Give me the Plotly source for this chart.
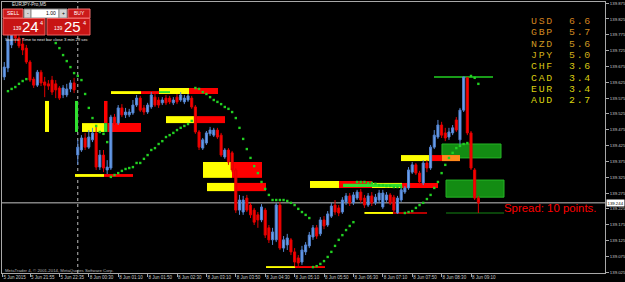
import plotly.graph_objects as go

# ---------------- data ----------------
bar_idx = list(range(-7, 123))
opens = [139.642,139.670,139.743,139.806,139.765,139.746,139.733,139.689,139.635,139.616,
         139.657,139.626,139.620,139.632,139.620,139.607,139.585,139.585,139.604,139.623,
         139.395,139.411,139.449,139.420,139.443,139.465,139.357,139.395,139.348,139.354,
         139.515,139.496,139.544,139.522,139.522,139.528,139.553,139.575,139.544,139.531,
         139.547,139.578,139.569,139.560,139.575,139.575,139.560,139.578,139.569,139.563,
         139.569,139.575,139.547,139.468,139.417,139.433,139.462,139.458,139.474,139.458,
         139.389,139.411,139.402,139.348,139.221,139.215,139.259,139.237,139.221,139.206,
         139.190,139.221,139.165,139.127,139.127,139.237,139.101,139.111,139.127,139.089,
         139.070,139.057,139.089,139.108,139.136,139.165,139.146,139.190,139.174,139.202,
         139.237,139.228,139.215,139.247,139.266,139.244,139.259,139.278,139.259,139.237,
         139.266,139.244,139.253,139.231,139.253,139.269,139.262,139.212,139.253,139.278,
         139.291,139.341,139.364,139.338,139.307,139.370,139.354,139.420,139.452,139.490,
         139.465,139.452,139.465,139.506,139.443,139.537,139.639,139.465,139.348,139.259]
highs = [139.689,139.774,139.828,139.838,139.784,139.765,139.743,139.695,139.642,139.664,
         139.664,139.642,139.632,139.645,139.632,139.613,139.616,139.620,139.632,139.639,
         139.443,139.458,139.465,139.474,139.481,139.487,139.411,139.411,139.379,139.522,
         139.525,139.553,139.556,139.544,139.541,139.569,139.585,139.582,139.553,139.560,
         139.594,139.591,139.578,139.578,139.585,139.582,139.578,139.588,139.594,139.585,
         139.588,139.582,139.553,139.474,139.449,139.471,139.484,139.481,139.481,139.465,
         139.417,139.417,139.408,139.354,139.269,139.266,139.269,139.244,139.228,139.215,
         139.240,139.228,139.174,139.165,139.244,139.247,139.139,139.146,139.133,139.101,
         139.079,139.108,139.120,139.152,139.174,139.174,139.199,139.202,139.218,139.244,
         139.253,139.237,139.262,139.275,139.275,139.278,139.285,139.288,139.269,139.275,
         139.278,139.272,139.285,139.285,139.278,139.275,139.269,139.266,139.291,139.297,
         139.357,139.373,139.370,139.345,139.379,139.379,139.427,139.474,139.506,139.500,
         139.481,139.481,139.490,139.515,139.544,139.642,139.642,139.471,139.354,139.266]
lows = [139.632,139.657,139.733,139.749,139.733,139.711,139.683,139.626,139.607,139.610,
        139.613,139.578,139.601,139.585,139.575,139.569,139.575,139.578,139.594,139.591,
        139.364,139.405,139.411,139.414,139.436,139.348,139.348,139.341,139.335,139.348,
        139.490,139.490,139.515,139.512,139.515,139.522,139.547,139.531,139.522,139.525,
        139.541,139.547,139.544,139.553,139.553,139.556,139.553,139.556,139.563,139.556,
        139.563,139.541,139.462,139.411,139.411,139.427,139.455,139.452,139.446,139.389,
        139.383,139.364,139.341,139.212,139.206,139.206,139.215,139.196,139.174,139.165,
        139.183,139.133,139.117,139.111,139.120,139.095,139.089,139.095,139.079,139.044,
        139.038,139.048,139.079,139.101,139.127,139.130,139.139,139.161,139.168,139.196,
        139.206,139.202,139.209,139.237,139.234,139.237,139.253,139.244,139.228,139.231,
        139.234,139.237,139.244,139.225,139.247,139.237,139.212,139.209,139.247,139.272,
        139.285,139.335,139.332,139.304,139.300,139.341,139.348,139.414,139.446,139.449,
        139.439,139.443,139.458,139.468,139.427,139.531,139.458,139.348,139.253,139.212]
closes = [139.673,139.759,139.806,139.765,139.740,139.727,139.689,139.632,139.616,139.657,
          139.623,139.616,139.613,139.594,139.601,139.575,139.607,139.604,139.623,139.601,
          139.420,139.449,139.420,139.452,139.465,139.357,139.395,139.354,139.357,139.515,
          139.496,139.544,139.522,139.531,139.531,139.553,139.575,139.537,139.531,139.553,
          139.585,139.553,139.553,139.569,139.560,139.563,139.569,139.563,139.585,139.575,
          139.582,139.547,139.468,139.420,139.443,139.465,139.474,139.474,139.452,139.395,
          139.411,139.373,139.348,139.221,139.253,139.253,139.221,139.206,139.183,139.190,
          139.231,139.142,139.127,139.152,139.237,139.101,139.127,139.133,139.089,139.057,
          139.054,139.095,139.111,139.142,139.165,139.139,139.190,139.171,139.209,139.234,
          139.215,139.212,139.253,139.266,139.244,139.269,139.278,139.253,139.237,139.266,
          139.244,139.262,139.275,139.275,139.269,139.244,139.221,139.259,139.285,139.291,
          139.348,139.364,139.338,139.310,139.370,139.354,139.420,139.458,139.490,139.458,
          139.449,139.468,139.481,139.474,139.537,139.642,139.465,139.354,139.259,139.244]

# Parabolic SAR dots
sar_idx = (list(range(-6, 0)) + list(range(7, 22)) + list(range(22, 45)) + list(range(45, 77))
           + list(range(77, 89)) + list(range(89, 102)) + list(range(102, 120)) + list(range(120, 123)))
sar_val = ([139.597,139.604,139.610,139.620,139.629,139.635]
           + [139.749,139.733,139.711,139.692,139.673,139.654,139.645,139.632,139.588,139.544,
              139.512,139.487,139.468,139.462,139.436]
           + [139.326,139.332,139.338,139.345,139.351,139.354,139.357,139.370,139.370,139.383,
              139.395,139.411,139.417,139.430,139.439,139.452,139.458,139.465,139.474,139.481,
              139.487,139.493,139.503]
           + [139.607,139.604,139.594,139.588,139.578,139.569,139.563,139.556,139.547,139.541,
              139.531,139.512,139.481,139.446,139.414,139.386,139.360,139.338,139.310,139.288,
              139.269,139.253,139.253,139.253,139.253,139.250,139.244,139.237,139.225,139.215,
              139.206,139.196]
           + [139.041,139.044,139.051,139.060,139.073,139.089,139.108,139.127,139.142,139.158,
              139.171,139.183]
           + [139.310,139.310,139.310,139.307,139.307,139.304,139.300,139.300,139.297,139.297,
              139.294,139.294,139.294]
           + [139.212,139.215,139.218,139.228,139.237,139.244,139.256,139.269,139.291,139.310,
              139.338,139.364,139.386,139.402,139.417,139.424,139.430,139.433]
           + [139.645,139.639,139.620])

# zones drawn on the chart (bar index from/to, price bottom/top, colour)
zone_x0 = [4.08,12.24,20.14,20.14,14.15,21.09,22.04,30.20,35.10,35.10,43.27,37.0,44.9,12.24,20.14,
           47.07,54.97,48.16,55.78,76.19,84.08,93.06,101.22,85.17,100.95,112.1,109.39,112.1,113.2,
           64.22,72.11,91.0,98.78]
zone_x1 = [5.17,13.06,21.09,21.09,20.14,30.20,30.20,38.10,43.27,38.10,51.16,44.9,53.06,20.14,28.03,
           54.97,63.13,55.78,64.22,84.08,93.06,101.22,111.02,101.22,109.39,128.16,117.01,117.01,128.98,
           72.11,80.27,98.78,108.03]
zone_lo = [139.468,139.468,139.496,139.468,139.468,139.468,139.588,139.588,139.588,139.591,139.588,
           139.496,139.496,139.326,139.326,139.323,139.323,139.281,139.281,139.291,139.291,139.291,
           139.291,139.294,139.376,139.386,139.376,139.376,139.262,139.038,139.038,139.209,139.209]
zone_hi = [139.566,139.566,139.566,139.496,139.496,139.496,139.597,139.597,139.607,139.597,139.607,
           139.518,139.518,139.335,139.335,139.373,139.373,139.307,139.307,139.313,139.313,139.307,
           139.307,139.304,139.395,139.430,139.395,139.395,139.316,139.044,139.044,139.215,139.215]
zone_col = ["yellow","lime","red","lime","yellow","red","yellow","red","yellow","lime","red",
            "yellow","red","yellow","red","yellow","red","yellow","red","yellow","red","yellow",
            "red","lime","yellow","green","red","orange","green","yellow","red","yellow","darkred"]
COLORS = {"yellow": "#ffff00", "red": "#ff0000", "lime": "#30e030", "green": "#138c13",
          "orange": "#ff8a1a", "darkred": "#b40000"}

line_x0 = [109.93, 113.2]
line_x1 = [125.99, 128.98]
line_y = [139.642, 139.212]
line_col = ["#22d022", "#0e5a0e"]

day_sep = 13
current_price = 139.244

x_tickvals = [-7.5, 0, 8, 16, 24, 32, 40, 48, 56, 64, 72, 80, 88, 96, 104, 112, 120]
x_ticktext = ["5 Jun 2015", "5 Jun 21:55", "5 Jun 22:35", "8 Jun 00:30", "8 Jun 01:10",
              "8 Jun 01:50", "8 Jun 02:30", "8 Jun 03:10", "8 Jun 03:50", "8 Jun 04:30",
              "8 Jun 05:10", "8 Jun 05:50", "8 Jun 06:30", "8 Jun 07:10", "8 Jun 07:50",
              "8 Jun 08:30", "8 Jun 09:10"]
y_tickvals = [139.025, 139.075, 139.125, 139.175, 139.225, 139.275, 139.325, 139.375, 139.425,
              139.475, 139.525, 139.575, 139.625, 139.675, 139.725, 139.775, 139.825, 139.875]
y_ticktext = ["%.3f" % v for v in y_tickvals]

currencies = ["USD", "GBP", "NZD", "JPY", "CHF", "CAD", "EUR", "AUD"]
strength = [6.6, 5.7, 5.6, 5.0, 3.6, 3.4, 3.4, 2.7]
cur_colors = ["#d2801e", "#d08a20", "#cc9822", "#d0ae1a", "#d6c414", "#dacc10", "#dad010", "#dad410"]

spread_points = 10

# ---------------- figure ----------------
W, H = 625, 282
ML, MR, MT, MB = 2, 20, 2, 9
PW, PH = W - ML - MR, H - MT - MB


def px(x):
    return (x - ML) / PW


def py(y):
    return (H - MB - y) / PH


fig = go.Figure()
fig.add_trace(go.Candlestick(
    x=bar_idx, open=opens, high=highs, low=lows, close=closes,
    increasing=dict(line=dict(color="#5585d0", width=1), fillcolor="#6aa2f2"),
    decreasing=dict(line=dict(color="#e00000", width=1), fillcolor="#ff0000"),
    whiskerwidth=0, hoverinfo="skip"))
fig.add_trace(go.Scatter(
    x=sar_idx, y=sar_val, mode="markers",
    marker=dict(symbol="square", size=2.4, color="#22d022", line=dict(width=0)),
    hoverinfo="skip"))

shapes = []
for a, b, lo, hi, c in zip(zone_x0, zone_x1, zone_lo, zone_hi, zone_col):
    shapes.append(dict(type="rect", xref="x", yref="y", x0=a, x1=b, y0=lo, y1=hi,
                       fillcolor=COLORS[c],
                       line=dict(color="#26b426" if c == "green" else COLORS[c], width=1 if c == "green" else 0),
                       layer="below"))
for a, b, yy, c in zip(line_x0, line_x1, line_y, line_col):
    shapes.append(dict(type="line", xref="x", yref="y", x0=a, x1=b, y0=yy, y1=yy,
                       line=dict(color=c, width=1.5), layer="below"))
shapes.append(dict(type="line", xref="paper", yref="y", x0=0, x1=1, y0=current_price, y1=current_price,
                   line=dict(color="#c4c4c4", width=1), layer="below"))
shapes.append(dict(type="line", xref="x", yref="paper", x0=day_sep, x1=day_sep, y0=0, y1=1,
                   line=dict(color="#bdbdbd", width=1, dash="dot"), layer="below"))


def panel_rect(x0, x1, y0, y1, fill, edge):
    shapes.append(dict(type="rect", xref="paper", yref="paper", x0=px(x0), x1=px(x1),
                       y0=py(y1), y1=py(y0), fillcolor=fill, line=dict(color=edge, width=1),
                       layer="above"))


panel_rect(3, 23, 9, 18, "#cc1a1a", "#f07070")
panel_rect(24, 31, 9, 18, "#d4d4d4", "#8c8c8c")
panel_rect(31, 59, 9, 18, "#ffffff", "#8c8c8c")
panel_rect(59, 67, 9, 18, "#d4d4d4", "#8c8c8c")
panel_rect(68, 90, 9, 18, "#cc1a1a", "#f07070")
panel_rect(3, 45, 18.5, 35, "#c81414", "#f06060")
panel_rect(47, 90, 18.5, 35, "#c81414", "#f06060")

ann = []


def txt(x, y, s, size, color, anchor="left", family="Liberation Sans", yanchor="middle"):
    ann.append(dict(xref="paper", yref="paper", x=px(x), y=py(y), text=s, showarrow=False,
                    xanchor=anchor, yanchor=yanchor, font=dict(size=size, color=color, family=family)))


txt(10, 4, "EURJPY-Pro,M5", 4.6, "#e0e0e0")
txt(13, 13.5, "SELL", 5, "#ffffff", "center")
txt(27.5, 13.5, "-", 5, "#000000", "center")
txt(51, 13.5, "1.00", 5, "#000000", "center")
txt(63, 13.5, "+", 5, "#000000", "center")
txt(79, 13.5, "BUY", 5, "#ffffff", "center")
txt(11, 28, "139", 5, "#ffffff")
txt(19.5, 27, "24", 15, "#ffffff")
txt(37.5, 23, "4", 5.5, "#ffffff")
txt(52, 28, "139", 5, "#ffffff")
txt(62, 27, "25", 15, "#ffffff")
txt(81, 23, "4", 5.5, "#ffffff")
txt(3, 39, "Statistic: Time to next bar close 3 min 29 sec", 4.2, "#e8e8e8")
txt(3, 270, "MetaTrader 4, \u00a9 2001-2014, MetaQuotes Software Corp.", 4.3, "#b8b8b8")

# currency strength table: one text block per column (rows spaced by the base font size)
SPAN = "<span style='font-size:9.9px;letter-spacing:1.75px;color:%s'>%s</span>"
col_names = "<br>".join(SPAN % (col, c) for c, col in zip(currencies, cur_colors))
col_vals = "<br>".join(SPAN % (col, "%.1f" % v) for v, col in zip(strength, cur_colors))
txt(528.5, 14, col_names, 8.73, cur_colors[0], family="Liberation Mono", yanchor="top")
txt(567, 14, col_vals, 8.73, cur_colors[0], family="Liberation Mono", yanchor="top")

txt(598, 208, "Spread: %d points." % spread_points, 11.4, "#ff0000", "right")

ann.append(dict(xref="paper", yref="y", x=px(606), y=current_price, text="%.3f" % current_price,
                showarrow=False, xanchor="left", yanchor="middle", bgcolor="#ffffff",
                borderpad=0.5, font=dict(size=4.3, color="#000000", family="Liberation Sans")))

fig.update_layout(
    width=W, height=H, margin=dict(l=ML, r=MR, t=MT, b=MB, autoexpand=False),
    paper_bgcolor="#000000", plot_bgcolor="#000000", showlegend=False, boxgap=0.2,
    shapes=shapes, annotations=ann,
    xaxis=dict(range=[-7.62, 156.46], showgrid=False, zeroline=False, showline=True,
               linecolor="#a8a8a8", linewidth=1, mirror=True, ticks="outside", ticklen=3,
               tickcolor="#a8a8a8", tickvals=x_tickvals, ticktext=x_ticktext,
               ticklabelposition="outside right", tickangle=0, automargin=False,
               tickfont=dict(size=4.5, color="#c8c8c8", family="Liberation Sans"),
               rangeslider=dict(visible=False)),
    yaxis=dict(range=[139.0223, 139.8787], side="right", showgrid=False, zeroline=False,
               showline=True, linecolor="#a8a8a8", linewidth=1, mirror=True, ticks="outside",
               ticklen=3, tickcolor="#a8a8a8", tickvals=y_tickvals, ticktext=y_ticktext,
               automargin=False,
               tickfont=dict(size=4.3, color="#c8c8c8", family="Liberation Sans")),
)

fig.write_html("out.html")
